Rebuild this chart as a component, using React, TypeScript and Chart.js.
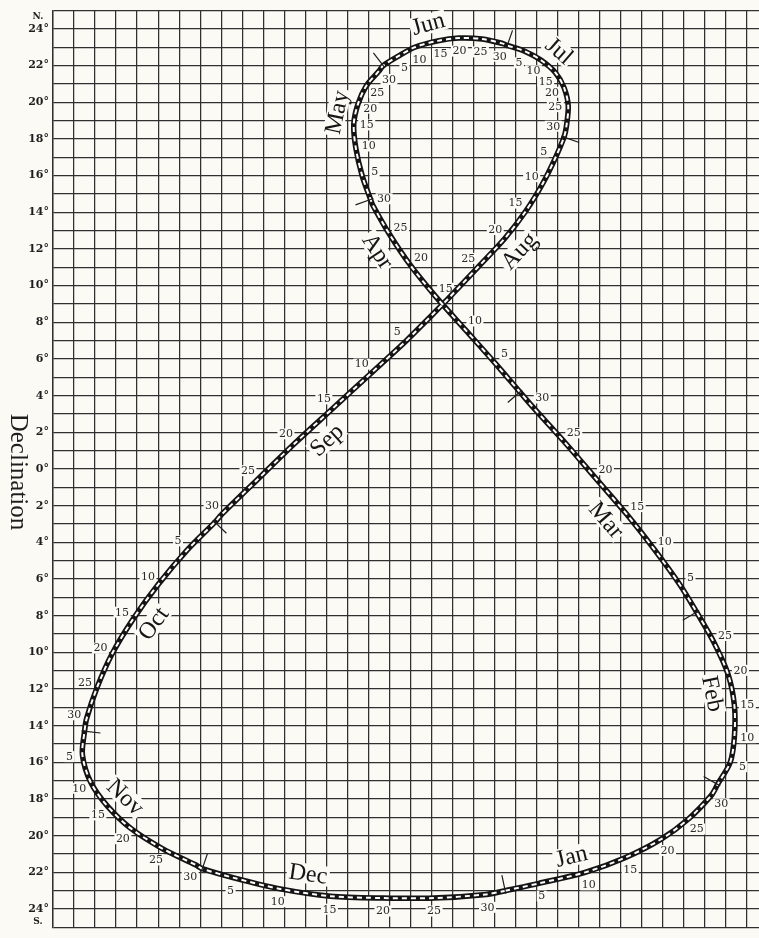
import React, { useEffect, useRef } from 'react';
import { Chart, registerables } from 'chart.js';

Chart.register(...registerables);

const monthNames = ['Jan', 'Feb', 'Mar', 'Apr', 'May', 'Jun', 'Jul', 'Aug', 'Sep', 'Oct', 'Nov', 'Dec'];
const monthLengths = [31, 28, 31, 30, 31, 30, 31, 31, 30, 31, 30, 31];

const dateLabels = [
  'Jan 1', 'Jan 5', 'Jan 10', 'Jan 15', 'Jan 20', 'Jan 25', 'Jan 30',
  'Feb 1', 'Feb 5', 'Feb 10', 'Feb 15', 'Feb 20', 'Feb 25',
  'Mar 1', 'Mar 5', 'Mar 10', 'Mar 15', 'Mar 20', 'Mar 25', 'Mar 30',
  'Apr 1', 'Apr 5', 'Apr 10', 'Apr 15', 'Apr 20', 'Apr 25', 'Apr 30',
  'May 1', 'May 5', 'May 10', 'May 15', 'May 20', 'May 25', 'May 30',
  'Jun 1', 'Jun 5', 'Jun 10', 'Jun 15', 'Jun 20', 'Jun 25', 'Jun 30',
  'Jul 1', 'Jul 5', 'Jul 10', 'Jul 15', 'Jul 20', 'Jul 25', 'Jul 30',
  'Aug 1', 'Aug 5', 'Aug 10', 'Aug 15', 'Aug 20', 'Aug 25', 'Aug 30',
  'Sep 1', 'Sep 5', 'Sep 10', 'Sep 15', 'Sep 20', 'Sep 25', 'Sep 30',
  'Oct 1', 'Oct 5', 'Oct 10', 'Oct 15', 'Oct 20', 'Oct 25', 'Oct 30',
  'Nov 1', 'Nov 5', 'Nov 10', 'Nov 15', 'Nov 20', 'Nov 25', 'Nov 30',
  'Dec 1', 'Dec 5', 'Dec 10', 'Dec 15', 'Dec 20', 'Dec 25', 'Dec 30',
];

// minutes the sun is fast (+) or slow (-)
const equationOfTime = [
  -3.5, -5.1, -7.3, -9.2, -10.9, -12.2, -13.3,
  -13.6, -14.2, -14.4, -14.4, -14.1, -13.4,
  -12.6, -11.8, -10.6, -9.3, -7.8, -6.3, -4.8,
  -4.2, -3.0, -1.6, -0.2, 1.0, 2.0, 2.8,
  2.9, 3.3, 3.6, 3.7, 3.5, 3.1, 2.5,
  2.3, 1.6, 0.8, -0.3, -1.3, -2.4, -3.4,
  -3.6, -4.4, -5.2, -5.9, -6.3, -6.5, -6.4,
  -6.3, -5.9, -5.3, -4.5, -3.5, -2.2, -0.8,
  -0.2, 1.2, 2.9, 4.7, 6.5, 8.3, 10.0,
  10.3, 11.6, 13.0, 14.2, 15.2, 15.9, 16.4,
  16.5, 16.6, 16.2, 15.4, 14.3, 12.8, 11.2,
  10.9, 9.4, 7.2, 4.8, 2.3, -0.1, -2.6,
];

// degrees, north +
const declination = [
  -23.0, -22.6, -22.0, -21.2, -20.2, -19.1, -17.8,
  -17.2, -16.0, -14.6, -12.9, -11.2, -9.4,
  -7.8, -6.3, -4.4, -2.5, -0.5, 1.5, 3.4,
  4.2, 5.8, 7.6, 9.4, 11.1, 12.8, 14.4,
  14.7, 16.0, 17.5, 18.8, 19.9, 20.9, 21.7,
  22.0, 22.5, 23.0, 23.35, 23.5, 23.45, 23.2,
  23.1, 22.8, 22.3, 21.6, 20.8, 19.8, 18.6,
  18.1, 17.0, 15.6, 14.1, 12.6, 11.0, 9.3,
  8.6, 7.0, 5.2, 3.3, 1.4, -0.6, -2.5,
  -2.9, -4.4, -6.3, -8.2, -10.1, -11.9, -13.6,
  -14.3, -15.6, -17.1, -18.4, -19.6, -20.7, -21.6,
  -21.8, -22.3, -22.9, -23.3, -23.4, -23.4, -23.2,
];

// day of month where each month name sits along the curve
const monthLabelDay = [9, 17.5, 16, 24, 17, 14, 12, 20, 17.5, 14, 16, 12.5];

// dates whose marks are hidden under the crossing of the loop
const hiddenMarks = ['Aug 30', 'Sep 1'];

const X_MIN = -15.57;
const X_MAX = 18;
const Y_MIN = -25;
const Y_MAX = 25;

const PAPER = '#fbfaf5';
const INK = '#1e1e1e';
const GRID = '#303030';

const parsed = dateLabels.map((s) => {
  const [m, d] = s.split(' ');
  return { m: monthNames.indexOf(m), d: Number(d), hidden: hiddenMarks.includes(s) };
});

function drawDecor(chart: any, bgPhase: boolean) {
  const meta = chart.getDatasetMeta(0);
  const pts = meta.data as any[];
  const n = dateLabels.length;
  if (!pts || pts.length < n) return;
  const at = (i: number) => pts[((i % n) + n) % n];
  const ctx: CanvasRenderingContext2D = chart.ctx;
  ctx.save();

  // day numbers and month ticks
  ctx.font = '11px "DejaVu Serif"';
  ctx.textAlign = 'center';
  ctx.textBaseline = 'middle';
  for (let i = 0; i < n; i++) {
    const { d, hidden } = parsed[i];
    if (hidden) continue;
    const p = at(i);
    const a = at(i - 1);
    const b = at(i + 1);
    let dx = b.x - a.x;
    let dy = b.y - a.y;
    const L = Math.hypot(dx, dy) || 1;
    dx /= L;
    dy /= L;
    if (d === 1) {
      if (!bgPhase) {
        ctx.strokeStyle = INK;
        ctx.lineWidth = 1.2;
        ctx.beginPath();
        ctx.moveTo(p.x - dy * 3, p.y + dx * 3);
        ctx.lineTo(p.x + dy * 16, p.y - dx * 16);
        ctx.stroke();
      }
      continue;
    }
    const lx = p.x - dy * 13;
    const ly = p.y + dx * 13;
    const t = String(d);
    if (bgPhase) {
      const w = ctx.measureText(t).width;
      ctx.fillStyle = PAPER;
      ctx.fillRect(lx - w / 2 - 1.5, ly - 5.5, w + 3, 11);
    } else {
      ctx.fillStyle = '#2a2a2a';
      ctx.fillText(t, lx, ly + 0.5);
    }
  }

  // month names
  ctx.font = '24px "Liberation Serif"';
  for (let m = 0; m < 12; m++) {
    const target = monthLabelDay[m];
    let i = -1;
    for (let k = 0; k < n; k++) {
      if (parsed[k].m === m && parsed[k].d <= target) i = k;
    }
    if (i < 0) continue;
    const j = i + 1;
    const nx = parsed[j % n];
    const nextDay = nx.m === m ? nx.d : monthLengths[m] + nx.d;
    const t = (target - parsed[i].d) / (nextDay - parsed[i].d);
    const p0 = at(i);
    const p1 = at(j);
    const px = p0.x + (p1.x - p0.x) * t;
    const py = p0.y + (p1.y - p0.y) * t;
    let dx = p1.x - p0.x;
    let dy = p1.y - p0.y;
    const L = Math.hypot(dx, dy) || 1;
    dx /= L;
    dy /= L;
    const off = 19;
    const cx = px + dy * off;
    const cy = py - dx * off;
    let ang = Math.atan2(dy, dx);
    if (ang > Math.PI / 2) ang -= Math.PI;
    if (ang < -Math.PI / 2) ang += Math.PI;
    ctx.save();
    ctx.translate(cx, cy);
    ctx.rotate(ang);
    const txt = monthNames[m];
    if (bgPhase) {
      const w = ctx.measureText(txt).width;
      ctx.fillStyle = PAPER;
      ctx.fillRect(-w / 2 - 2, -10, w + 4, 20);
    } else {
      ctx.fillStyle = '#151515';
      ctx.fillText(txt, 0, 1);
    }
    ctx.restore();
  }
  ctx.restore();
}

const decorPlugin = {
  id: 'analemmaDecor',
  beforeDraw(chart: any) {
    const { ctx, width, height } = chart;
    ctx.save();
    ctx.fillStyle = PAPER;
    ctx.fillRect(0, 0, width, height);
    ctx.restore();
  },
  beforeDatasetsDraw(chart: any) {
    drawDecor(chart, true);
  },
  afterDatasetsDraw(chart: any) {
    drawDecor(chart, false);
  },
  afterDraw(chart: any) {
    const ctx: CanvasRenderingContext2D = chart.ctx;
    const yScale = chart.scales.y;
    ctx.save();
    ctx.fillStyle = INK;
    ctx.textAlign = 'center';
    ctx.textBaseline = 'middle';
    ctx.font = 'bold 9px "DejaVu Serif"';
    ctx.fillText('N.', 38, yScale.getPixelForValue(24) - 12);
    ctx.fillText('S.', 38, yScale.getPixelForValue(-24) + 13);
    ctx.font = '25px "Liberation Serif"';
    ctx.translate(18, yScale.getPixelForValue(0) + 3);
    ctx.rotate(Math.PI / 2);
    ctx.fillText('Declination', 0, 0);
    ctx.restore();
  },
};

export default function App() {
  const canvasRef = useRef<HTMLCanvasElement | null>(null);

  useEffect(() => {
    const canvas = canvasRef.current;
    if (!canvas) return;
    const points = equationOfTime.map((e, i) => ({ x: e, y: declination[i] }));
    const closed = points.concat([points[0]]);
    const chart = new Chart(canvas, {
      type: 'line',
      data: {
        datasets: [
          {
            data: closed,
            borderColor: '#ffffff',
            borderWidth: 2,
            borderDash: [5, 4],
            pointRadius: 0,
            tension: 0.3,
            fill: false,
          },
          {
            data: closed,
            borderColor: '#141414',
            borderWidth: 5.5,
            pointRadius: 0,
            tension: 0.3,
            fill: false,
          },
        ],
      },
      options: {
        animation: false,
        responsive: false,
        devicePixelRatio: 1,
        layout: { padding: { top: 8, left: 0, right: 0, bottom: 0 } },
        plugins: {
          legend: { display: false },
          tooltip: { enabled: false },
          title: { display: false },
        },
        scales: {
          x: {
            type: 'linear',
            reverse: true,
            min: X_MIN,
            max: X_MAX,
            ticks: { display: false, stepSize: 1, includeBounds: false },
            grid: { color: GRID, lineWidth: 1.25, drawTicks: false },
            border: { display: false },
          },
          y: {
            type: 'linear',
            min: Y_MIN,
            max: Y_MAX,
            ticks: {
              stepSize: 1,
              autoSkip: false,
              padding: 4,
              color: INK,
              font: { family: '"DejaVu Serif"', size: 11, weight: 'bold' },
              callback: (v: any) => {
                const n = Number(v);
                if (!Number.isInteger(n) || n % 2 !== 0 || Math.abs(n) > 24) return '';
                return `${Math.abs(n)}°`;
              },
            },
            grid: { color: GRID, lineWidth: 1.25, drawTicks: false },
            border: { color: GRID, width: 1.4 },
            afterFit: (s: any) => {
              s.width = 53;
            },
          },
        },
      } as any,
      plugins: [decorPlugin],
    });
    return () => {
      chart.destroy();
    };
  }, []);

  return (
    <div style={{ position: 'absolute', left: 0, top: 0, width: 759, height: 938, background: PAPER }}>
      <canvas ref={canvasRef} width={759} height={938} style={{ display: 'block' }} />
    </div>
  );
}
